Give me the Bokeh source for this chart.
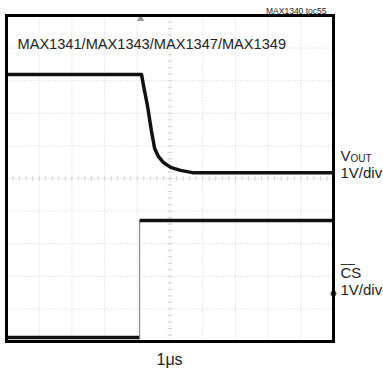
from bokeh.plotting import figure
from bokeh.models import Label, Range1d
from bokeh.embed import file_html
from bokeh.resources import INLINE

# ---- data (in scope divisions: x 0..10, y 0..10) ----
vout_x = [0, 4.13, 4.19, 4.31, 4.43, 4.53, 4.65, 4.80, 5.02, 5.32, 5.69, 10]
vout_y = [8.19, 8.19, 7.85, 7.24, 6.47, 5.92, 5.67, 5.49, 5.34, 5.25, 5.18, 5.18]
cs_x = [0, 4.07, 4.07, 10]
cs_y = [0.12, 0.12, 3.71, 3.71]
grid_div = [1, 2, 3, 4, 5, 6, 7, 8, 9]
minor_ticks = [i / 5 for i in range(1, 50)]
trigger_x = [4.10]
cs_ground_y = [1.47]

FONT = "Liberation Sans"

W, H = 383, 372
def px2x(px):
    return (px - 6) / 32.7
def py2y(py):
    return (341 - py) / 32.6

p = figure(width=W, height=H, output_backend="svg", toolbar_location=None,
           x_range=Range1d(px2x(0), px2x(W)), y_range=Range1d(py2y(H), py2y(0)),
           x_axis_location=None, y_axis_location=None, min_border=0, title=None)
p.outline_line_color = None
p.grid.visible = False
p.background_fill_color = "white"

# grid
p.segment(x0=grid_div, y0=[0] * 9, x1=grid_div, y1=[10] * 9,
          line_color="#d2d2d2", line_width=1, line_dash="1 2")
p.segment(x0=[0] * 9, y0=grid_div, x1=[10] * 9, y1=grid_div,
          line_color="#d2d2d2", line_width=1, line_dash="1 2")
# center minor ticks
p.segment(x0=minor_ticks, y0=[4.93] * len(minor_ticks), x1=minor_ticks, y1=[5.07] * len(minor_ticks),
          line_color="#d2d2d2", line_width=1)
p.segment(x0=[4.93] * len(minor_ticks), y0=minor_ticks, x1=[5.07] * len(minor_ticks), y1=minor_ticks,
          line_color="#d2d2d2", line_width=1)

# traces
p.line(vout_x, vout_y, line_color="#111111", line_width=3.5, line_join="round")
p.line(cs_x[:2], cs_y[:2], line_color="#111111", line_width=3.5)
p.line(cs_x[1:3], cs_y[1:3], line_color="#888888", line_width=1.2)
p.line(cs_x[2:], cs_y[2:], line_color="#111111", line_width=3.5)

# markers
p.scatter(trigger_x, [9.9], marker="triangle", size=6, color="#999999")
p.scatter([10], cs_ground_y, marker="circle", size=5, color="#333333")

# frame box
p.quad(left=[0], right=[10], bottom=[0], top=[10], fill_color=None,
       line_color="black", line_width=3, line_join="miter")

def lab(text, px, py, size, align="left", color="#222222"):
    p.add_layout(Label(x=px2x(px), y=py2y(py), text=text, text_font=FONT,
                       text_font_size=f"{size}px", text_align=align,
                       text_baseline="alphabetic", text_color=color))

lab("MAX1340 toc55", 326, 10.5, 8.5, align="right")
lab("MAX1341/MAX1343/MAX1347/MAX1349", 17, 43, 14.6)
lab("V", 340, 155, 15)
lab("OUT", 350, 158, 10)
lab("1V/div", 340, 172, 15)
lab("CS", 340, 272, 15)
lab("\u2012\u2012", 340, 263, 13)
lab("1V/div", 340, 289, 15)
lab("1\u03bcs", 156, 359, 16)

open("out.html", "w").write(file_html(p, INLINE))
